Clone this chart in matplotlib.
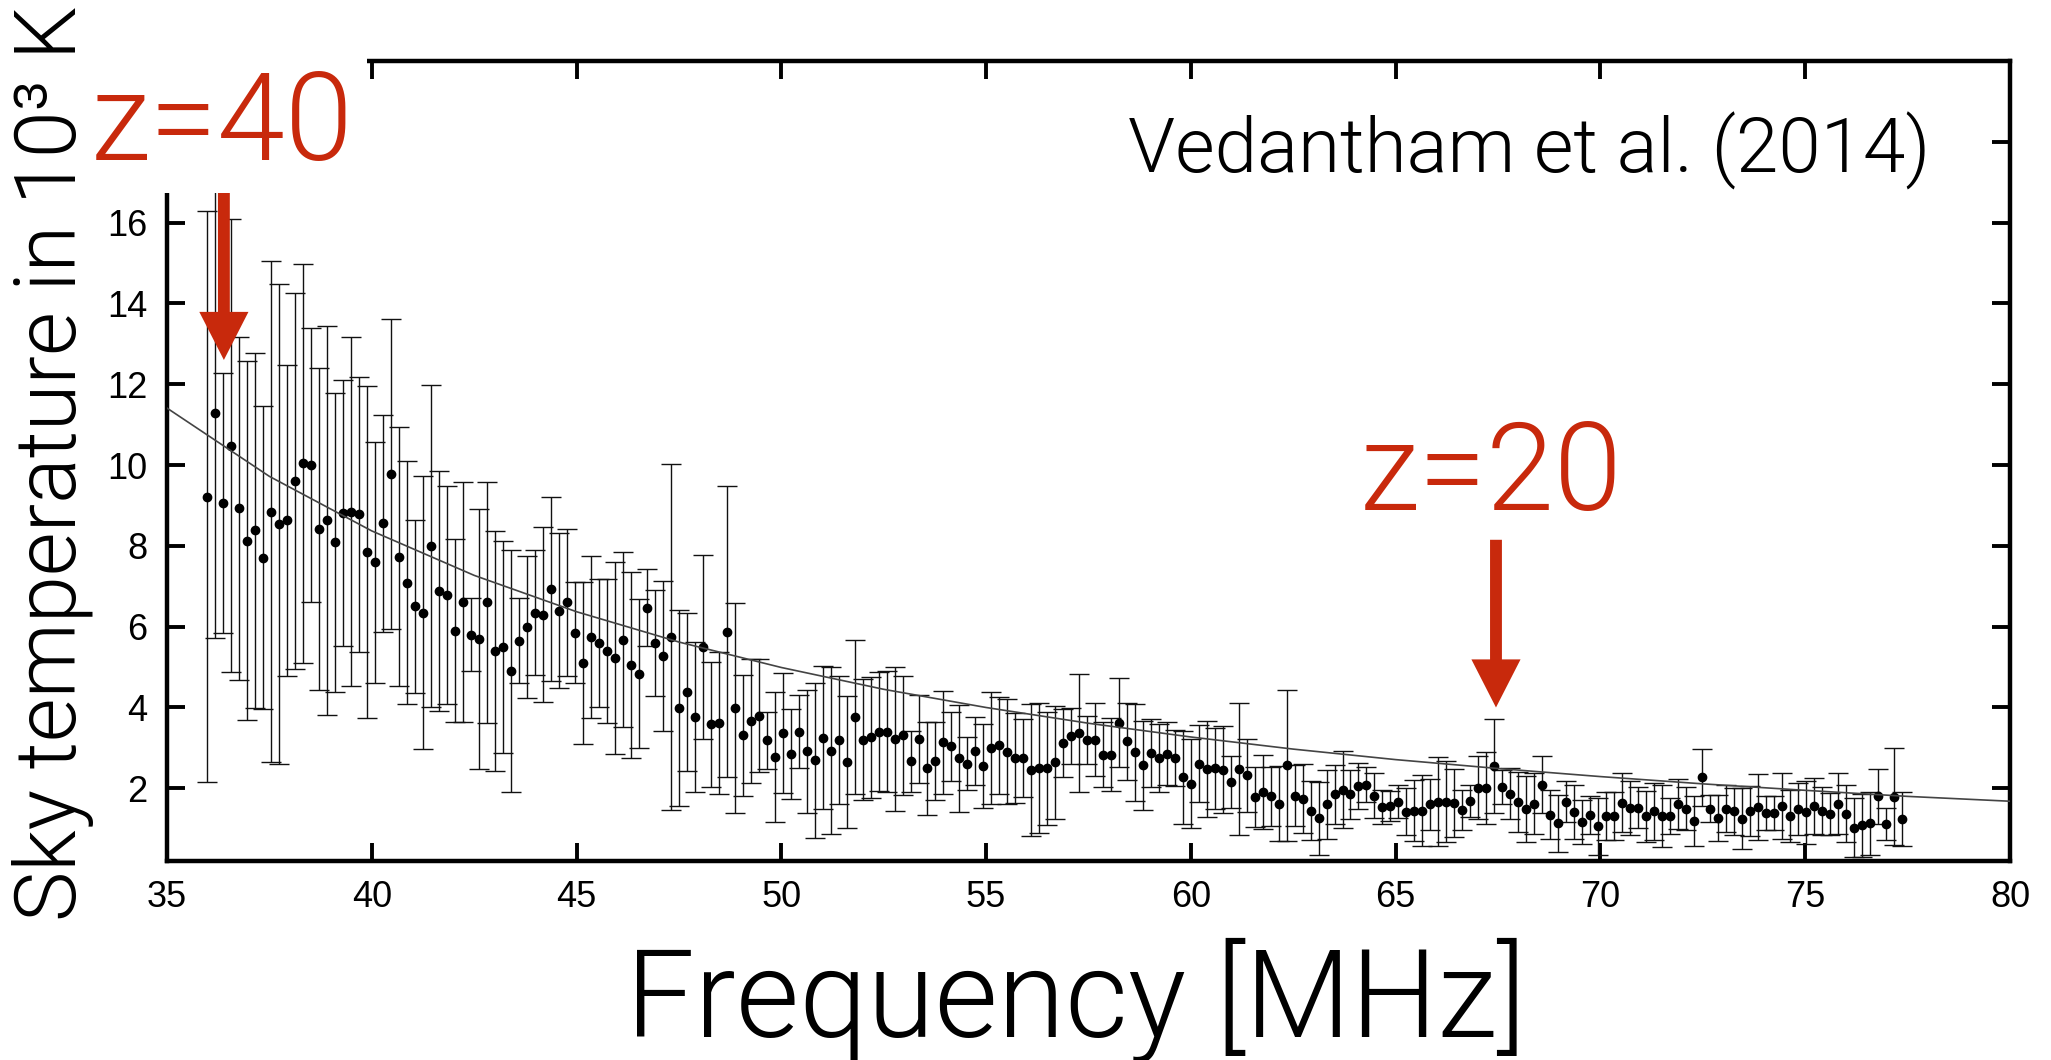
import numpy as np
import matplotlib
matplotlib.use("Agg")
import matplotlib.pyplot as plt
from matplotlib import font_manager as fm
from matplotlib.patches import Rectangle

# channel grid of the measurement (first channel and channel width, MHz)
f_first = 35.97
f_step = 0.1953

# sky temperature per channel, 10^3 K
temp = [9.22, 11.28, 9.06, 10.48, 8.93, 8.13, 8.38, 7.71, 8.85, 8.54,
        8.63, 9.61, 10.04, 10.00, 8.42, 8.63, 8.09, 8.81, 8.85, 8.78,
        7.85, 7.59, 8.56, 9.77, 7.73, 7.09, 6.50, 6.35, 8.00, 6.89,
        6.79, 5.90, 6.60, 5.80, 5.70, 6.60, 5.40, 5.50, 4.90, 5.65,
        6.00, 6.35, 6.30, 6.94, 6.40, 6.60, 5.85, 5.10, 5.75, 5.60,
        5.39, 5.22, 5.68, 5.06, 4.84, 6.47, 5.60, 5.28, 5.74, 3.98,
        4.38, 3.76, 5.50, 3.58, 3.62, 5.88, 3.99, 3.31, 3.66, 3.80,
        3.19, 2.78, 3.37, 2.85, 3.40, 2.92, 2.69, 3.25, 2.93, 3.20,
        2.65, 3.76, 3.20, 3.26, 3.40, 3.40, 3.23, 3.31, 2.67, 3.22,
        2.50, 2.67, 3.14, 3.04, 2.74, 2.61, 2.93, 2.56, 3.00, 3.06,
        2.90, 2.75, 2.75, 2.46, 2.50, 2.50, 2.64, 3.12, 3.29, 3.37,
        3.20, 3.20, 2.83, 2.83, 3.62, 3.16, 2.89, 2.57, 2.87, 2.75,
        2.86, 2.75, 2.27, 2.11, 2.61, 2.48, 2.50, 2.46, 2.15, 2.48,
        2.32, 1.78, 1.91, 1.80, 1.62, 2.57, 1.82, 1.74, 1.45, 1.26,
        1.60, 1.85, 1.97, 1.85, 2.05, 2.09, 1.82, 1.54, 1.56, 1.67,
        1.42, 1.45, 1.44, 1.60, 1.67, 1.67, 1.64, 1.46, 1.69, 2.01,
        2.01, 2.55, 2.03, 1.87, 1.66, 1.49, 1.62, 2.09, 1.35, 1.13,
        1.67, 1.42, 1.16, 1.33, 1.06, 1.31, 1.31, 1.64, 1.52, 1.52,
        1.31, 1.43, 1.31, 1.31, 1.62, 1.50, 1.19, 2.27, 1.50, 1.27,
        1.49, 1.43, 1.25, 1.43, 1.54, 1.39, 1.39, 1.57, 1.31, 1.49,
        1.41, 1.56, 1.43, 1.37, 1.62, 1.37, 1.02, 1.08, 1.13, 1.80,
        1.12, 1.79, 1.24]

err = [7.07, 5.55, 3.21, 5.60, 4.24, 4.44, 4.40, 3.74, 6.19, 5.93,
       3.84, 4.65, 4.93, 3.38, 3.98, 4.82, 3.70, 3.29, 4.32, 3.41,
       4.11, 2.98, 2.69, 3.84, 3.21, 3.01, 2.14, 3.38, 3.99, 2.97,
       2.70, 2.27, 2.97, 0.90, 3.21, 2.99, 2.97, 2.63, 3.00, 1.05,
       1.76, 1.55, 2.17, 2.28, 1.92, 1.82, 1.25, 2.00, 2.01, 1.59,
       1.78, 2.37, 2.17, 2.30, 1.85, 0.96, 1.31, 1.85, 4.28, 2.43,
       1.96, 1.85, 2.27, 1.55, 1.75, 3.60, 2.59, 1.50, 1.53, 1.40,
       0.70, 1.61, 1.49, 1.12, 0.90, 1.52, 1.91, 1.77, 2.06, 1.58,
       1.64, 1.91, 1.50, 1.50, 1.47, 1.50, 1.78, 1.47, 0.76, 1.09,
       1.15, 0.96, 1.27, 0.85, 1.33, 0.65, 0.84, 1.04, 1.38, 1.19,
       1.30, 1.12, 0.97, 1.63, 1.60, 1.40, 1.39, 0.85, 0.69, 1.47,
       0.60, 0.90, 0.80, 0.90, 1.10, 0.95, 1.20, 1.10, 0.85, 0.85,
       0.78, 0.70, 1.15, 1.10, 0.95, 1.18, 1.00, 1.07, 0.64, 1.63,
       0.90, 0.75, 0.92, 0.73, 0.92, 1.87, 0.75, 0.85, 0.72, 0.90,
       0.85, 0.73, 0.96, 0.60, 0.57, 0.43, 0.55, 0.43, 0.37, 0.40,
       0.58, 0.75, 0.88, 0.63, 1.10, 1.00, 0.84, 0.50, 0.40, 0.78,
       0.90, 1.17, 0.43, 0.64, 0.75, 0.81, 0.75, 0.70, 0.60, 0.71,
       0.50, 0.67, 0.54, 0.47, 0.70, 0.60, 0.60, 0.73, 0.67, 0.50,
       0.63, 0.71, 0.77, 0.44, 0.62, 0.53, 0.63, 0.71, 0.33, 0.57,
       0.58, 0.58, 0.75, 0.62, 0.82, 0.41, 0.41, 0.82, 0.65, 0.65,
       0.78, 0.70, 0.59, 0.52, 0.76, 0.71, 0.73, 0.77, 0.79, 0.68,
       0.39, 1.20, 0.67]

# power-law fit line as drawn in the figure
fit_freq = [35, 37.5, 40, 42.5, 45, 47.5, 50, 52.5, 55, 57.5,
            60, 62.5, 65, 67.5, 70, 72.5, 75, 77.5, 80]
fit_temp = [11.41, 9.72, 8.37, 7.27, 6.37, 5.62, 4.99, 4.45, 4.00, 3.61,
            3.27, 2.97, 2.71, 2.49, 2.29, 2.11, 1.95, 1.80, 1.68]

freq = f_first + f_step * np.arange(len(temp))

red = '#C8290C'


def light_font():
    for fam in ['Roboto', 'Inter', 'Lato', 'Open Sans']:
        for f in fm.fontManager.ttflist:
            if f.name == fam and str(f.weight) in ('300', 'light') and f.style == 'normal':
                return fm.FontProperties(fname=f.fname)
    return fm.FontProperties(family='Liberation Sans')


thin = light_font()

fig = plt.figure(figsize=(20.51, 10.60), dpi=100)
ax = fig.add_axes([0.0814, 0.1877, 0.8986, 0.7548])

ax.errorbar(freq, temp, yerr=err, fmt='o', ms=6.0, mfc='black', mec='black',
            ecolor='#111111', elinewidth=1.0, capsize=7, capthick=1.0, zorder=2)
ax.plot(fit_freq, fit_temp, color='#444444', lw=1.2, zorder=3)

ax.set_xlim(35, 80)
ax.set_ylim(0.2, 20)
ax.set_xticks(np.arange(35, 81, 5))
ax.set_yticks(np.arange(2, 19, 2))
for side in ax.spines.keys():
    ax.spines[side].set_linewidth(3.2)
ax.tick_params(direction='in', length=13, width=2.8, top=True, right=True,
               labelsize=26, pad=14)
for lab in ax.get_xticklabels() + ax.get_yticklabels():
    lab.set_fontfamily('Liberation Sans')

# arrows marking the redshifts
ax.arrow(36.39, 17.5, 0, 12.6 - 17.5, width=0.29, head_width=1.2, head_length=1.19,
         length_includes_head=True, fc=red, ec='none', zorder=6)
ax.arrow(67.45, 8.15, 0, 4.0 - 8.15, width=0.29, head_width=1.2, head_length=1.19,
         length_includes_head=True, fc=red, ec='none', zorder=6)

# white cover over the top-left corner
fig.add_artist(Rectangle((0, 1 - 193 / 1060), 367 / 2051, 193 / 1060,
                         transform=fig.transFigure, fc='white', ec='none', zorder=1))

fig.text(0.5246, 0.0217, 'Frequency [MHz]', fontproperties=thin, fontsize=88,
         ha='center', va='baseline', zorder=5)
fig.text(0.0371, 0.563, 'Sky temperature in 10³ K', fontproperties=thin, fontsize=61,
         rotation=90, rotation_mode='anchor', ha='center', va='baseline', zorder=5)
fig.text(0.0444, 0.849, 'z=40', fontproperties=thin, fontsize=88, color=red,
         ha='left', va='baseline', zorder=5)
fig.text(0.663, 0.519, 'z=20', fontproperties=thin, fontsize=88, color=red,
         ha='left', va='baseline', zorder=5)
fig.text(0.941, 0.8368, 'Vedantham et al. (2014)', fontproperties=thin, fontsize=55,
         ha='right', va='baseline', zorder=5)

fig.savefig('out.png', dpi=100)
